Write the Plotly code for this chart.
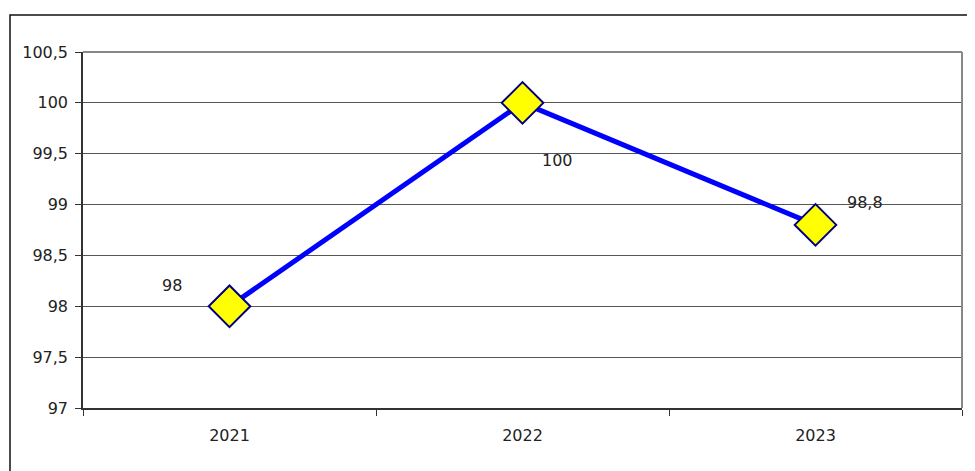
import plotly.graph_objects as go

years = ["2021", "2022", "2023"]
values = [98, 100, 98.8]
value_labels = ["98", "100", "98,8"]
label_shifts = [(-58, 21), (35, -58), (49, 22)]

fig = go.Figure()
fig.add_trace(go.Scatter(
    x=years, y=values, mode="lines+markers",
    line=dict(color="#0000FF", width=5),
    marker=dict(symbol="diamond", size=32, color="#FFFF00",
                line=dict(color="#000080", width=2)),
    showlegend=False, hoverinfo="skip",
))

font = dict(family="DejaVu Sans", size=16, color="#222")

for i, (y, t, (dx, dy)) in enumerate(zip(values, value_labels, label_shifts)):
    fig.add_annotation(x=i, y=y, xref="x", yref="y", text=t, showarrow=False,
                       xshift=dx, yshift=dy, font=font)

# page body has an 8px margin: figure origin sits at (8, 8) in the window
W, H = 967, 463
L, R, T, B = 75, 13, 44, 63
pw, ph = W - L - R, H - T - B

fig.update_layout(
    width=W, height=H,
    margin=dict(l=L, r=R, t=T, b=B),
    paper_bgcolor="white", plot_bgcolor="white",
    separators=", ",
    font=font,
    xaxis=dict(type="category", showline=True, linecolor="#333", linewidth=1.5,
               ticks="outside", tickson="boundaries", ticklen=6, tickcolor="#333",
               ticklabelstandoff=12,
               showgrid=False, tickfont=font, range=[-0.5, 2.5]),
    yaxis=dict(range=[97, 100.5], dtick=0.5, showline=True, linecolor="#333", linewidth=1.5,
               ticks="outside", ticklen=6, tickcolor="#333", ticklabelstandoff=4,
               showgrid=True, gridcolor="#555", gridwidth=1, zeroline=False,
               tickfont=font),
    shapes=[
        dict(type="line", xref="paper", yref="paper", x0=0, x1=1, y0=1, y1=1,
             line=dict(color="#888", width=2)),
        dict(type="line", xref="paper", yref="paper", x0=1, x1=1, y0=0, y1=1,
             line=dict(color="#888", width=2)),
        dict(type="rect", xref="paper", yref="paper",
             x0=(2 - L) / pw, x1=(990 - L) / pw,
             y0=-90 / ph, y1=(T + ph - 7) / ph,
             line=dict(color="#111", width=1.5)),
    ],
)

fig.write_html("out.html")
